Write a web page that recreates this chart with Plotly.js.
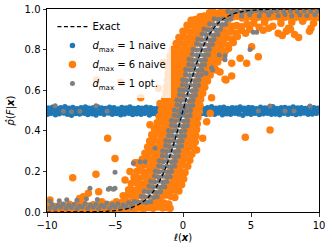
<!DOCTYPE html>
<html><head><meta charset="utf-8">
<script src="https://cdn.plot.ly/plotly-3.0.1.min.js"></script>
<style>html,body{margin:0;padding:0;background:#fff}#chart{width:332px;height:249px}</style>
</head><body><div id="chart"></div>
<script>
// ---- Exact curve ----
const exactX = [-10,-8,-7,-6,-5.5,-5,-4.5,-4,-3.5,-3,-2.5,-2,-1.5,-1,-0.5,0,0.5,1,1.5,2,2.5,3,3.5,4,4.5,5,5.5,6,7,8,10];
const exactY = [0.00005,0.00034,0.00091,0.0025,0.0041,0.0067,0.011,0.018,0.0293,0.0474,0.0759,0.1192,0.1824,0.2689,0.3775,0.5,0.6225,0.7311,0.8176,0.8808,0.9241,0.9526,0.9707,0.982,0.989,0.9933,0.9959,0.9975,0.9991,0.9997,0.99995];

// ---- d_max = 1 naive (blue band) ----
const blueX = [
-9.97,-9.7,-9.38,-9.1,-8.77,-8.5,-8.2,-7.88,-7.6,-7.27,-7.0,-6.69,-6.4,-6.08,-5.8,-5.47,-5.2,-4.9,-4.58,-4.3,-3.98,-3.7,-3.4,-3.08,-2.8,-2.47,-2.2,-1.9,-1.58,-1.3,-0.99,-0.7,-0.38,-0.1,0.22,0.5,0.8,1.12,1.4,1.71,2.0,2.32,2.6,2.9,3.21,3.5,3.82,4.1,4.4,4.72,5.0,5.3,5.61,5.9,6.22,6.5,6.8,7.11,7.4,7.71,8.0,8.3,8.62,8.9,9.2,9.51,9.8,
-9.85,-9.55,-9.22,-8.93,-8.62,-8.35,-8.03,-7.74,-7.42,-7.13,-6.84,-6.52,-6.23,-5.93,-5.62,-5.33,-5.03,-4.73,-4.43,-4.12,-3.83,-3.53,-3.22,-2.93,-2.63,-2.32,-2.03,-1.73,-1.43,-1.12,-0.83,-0.53,-0.22,0.07,0.37,0.66,0.97,1.27,1.56,1.86,2.17,2.46,2.76,3.06,3.36,3.66,3.96,4.26,4.56,4.86,5.16,5.46,5.76,6.06,6.36,6.66,6.96,7.26,7.56,7.86,8.16,8.46,8.76,9.06,9.36,9.66,9.95,
-9.92,-9.6,-9.3,-9.0,-8.68,-8.4,-8.1,-7.8,-7.5,-7.18,-6.9,-6.6,-6.3,-5.98,-5.7,-5.4,-5.08,-4.8,-4.5,-4.18,-3.9,-3.6,-3.28,-3.0,-2.7,-2.38,-2.1,-1.8,-1.48,-1.2,-0.9,-0.58,-0.3,0.0,0.3,0.62,0.9,1.2,1.52,1.8,2.1,2.42,2.7,3.0,3.3,3.62,3.9,4.2,4.5,4.82,5.1,5.4,5.7,6.02,6.3,6.6,6.9,7.22,7.5,7.8,8.1,8.42,8.7,9.0,9.3,9.62,9.9
];
const blueY = [
0.481,0.486,0.479,0.484,0.488,0.482,0.477,0.485,0.483,0.487,0.480,0.484,0.478,0.486,0.482,0.488,0.481,0.485,0.479,0.483,0.487,0.480,0.484,0.482,0.486,0.478,0.485,0.481,0.487,0.483,0.479,0.486,0.482,0.484,0.480,0.487,0.483,0.478,0.485,0.481,0.486,0.482,0.488,0.479,0.484,0.481,0.486,0.483,0.477,0.485,0.482,0.487,0.480,0.484,0.486,0.481,0.483,0.479,0.487,0.482,0.485,0.480,0.484,0.488,0.481,0.483,0.486,
0.496,0.500,0.494,0.499,0.502,0.497,0.495,0.501,0.498,0.503,0.496,0.499,0.494,0.501,0.497,0.502,0.498,0.495,0.500,0.497,0.503,0.496,0.499,0.501,0.495,0.498,0.502,0.497,0.500,0.494,0.499,0.501,0.496,0.498,0.503,0.497,0.500,0.495,0.499,0.502,0.496,0.498,0.501,0.497,0.494,0.500,0.498,0.502,0.496,0.499,0.501,0.495,0.498,0.503,0.497,0.500,0.496,0.499,0.502,0.495,0.498,0.501,0.497,0.500,0.494,0.499,0.502,
0.512,0.516,0.510,0.514,0.518,0.511,0.515,0.509,0.513,0.517,0.511,0.514,0.519,0.512,0.510,0.516,0.513,0.508,0.515,0.512,0.517,0.510,0.514,0.511,0.516,0.513,0.509,0.515,0.518,0.512,0.514,0.510,0.516,0.513,0.511,0.517,0.512,0.515,0.509,0.514,0.518,0.511,0.513,0.516,0.510,0.514,0.512,0.517,0.511,0.515,0.513,0.509,0.516,0.512,0.514,0.518,0.510,0.513,0.515,0.511,0.517,0.512,0.514,0.510,0.516,0.513,0.511
];

// ---- d_max = 6 naive (orange) ----
const orangeX = [
// central band, level by level (bottom to top)
-4.9,-4.55,-4.2,-3.85,-3.5,-2.45,-2.1,-1.75,-1.4,-1.05,
-4.4,-4.05,-3.7,-3.35,-3.0,-1.95,-1.6,-1.25,-0.9,-0.6,
-4.0,-3.65,-3.3,-2.95,-2.6,-1.6,-1.25,-0.9,-0.55,-0.3,
-3.8,-3.45,-3.1,-2.75,-2.4,-1.35,-1.0,-0.65,-0.35,-0.1,
-3.6,-3.25,-2.9,-2.55,-2.2,-1.1,-0.75,-0.45,-0.15,0.05,
-3.4,-3.05,-2.7,-2.35,-2.0,-0.9,-0.55,-0.2,0.15,
-3.2,-2.85,-2.5,-2.15,-1.8,-0.7,-0.35,0.0,0.35,
-3.0,-2.65,-2.3,-1.95,-1.6,-0.55,-0.2,0.15,0.5,
-2.8,-2.45,-2.1,-1.75,-1.4,-0.4,-0.05,0.3,0.65,
-2.6,-2.25,-1.9,-1.55,-1.25,-0.25,0.1,0.45,0.8,
-2.45,-2.1,-1.75,-1.4,-1.1,-0.12,0.22,0.55,0.9,
-2.3,-1.95,-1.6,-1.3,-0.98,0.0,0.32,0.65,0.95,
-2.1,-1.8,-1.5,-1.2,-0.88,0.12,0.42,0.72,1.0,
-1.9,-1.6,-1.3,-1.0,-0.72,0.25,0.55,0.82,1.05,
-1.75,-1.45,-1.15,-0.85,-0.6,0.36,0.62,0.88,1.1,
-1.6,-1.3,-1.0,-0.72,-0.48,0.48,0.72,0.98,1.2,
-1.45,-1.15,-0.88,-0.6,-0.35,0.6,0.85,1.05,1.25,
-1.35,-1.05,-0.78,-0.5,-0.25,0.72,0.95,1.15,1.3,
-1.25,-0.95,-0.68,-0.4,-0.12,0.85,1.05,1.25,1.45,
-1.2,-0.9,-0.6,-0.3,0.0,0.98,1.2,1.4,1.6,
-1.15,-0.85,-0.55,-0.25,0.12,1.1,1.35,1.58,1.8,
-1.1,-0.8,-0.5,-0.2,0.1,1.25,1.5,1.75,2.0,
-1.05,-0.75,-0.45,-0.15,0.15,0.42,1.4,1.7,2.0,2.3,
-1.0,-0.7,-0.4,-0.1,0.2,0.5,1.55,1.85,2.2,2.55,
-0.95,-0.65,-0.35,-0.05,0.25,0.55,1.7,2.0,2.3,2.6,2.9,
-0.8,-0.5,-0.2,0.1,0.4,0.7,1.9,2.2,2.5,2.8,3.1,3.35,
-0.5,-0.2,0.1,0.4,0.7,1.0,2.1,2.4,2.7,3.0,3.35,3.7,
-0.3,0.0,0.3,0.6,0.9,1.2,2.3,2.6,2.9,3.2,3.6,4.0,
0.0,0.3,0.6,0.9,1.2,1.5,2.6,2.9,3.2,3.5,3.9,4.3,
0.3,0.6,0.9,1.2,1.5,1.8,2.95,3.3,3.6,3.95,4.3,4.7,
0.6,0.9,1.2,1.5,1.8,2.1,
// top rows
1.25,1.55,1.9,2.25,2.6,2.95,3.3,3.65,4.0,4.35,4.7,5.05,5.4,5.75,6.1,6.45,6.8,7.15,7.5,7.85,8.2,8.55,8.9,9.25,9.6,9.95,
1.95,2.2,2.4,2.75,3.1,3.45,3.8,4.15,4.5,4.85,5.2,5.55,5.9,6.25,6.6,6.95,7.3,7.65,8.0,8.35,8.7,9.05,9.4,9.75,10.0,
// upper right scatter
5.6,5.9,6.3,6.6,7.0,7.3,7.6,7.9,8.2,8.5,9.3,5.2,6.0,7.2,8.0,8.8,4.9,4.6,9.6,5.54,5.05,4.68,4.2,3.58,3.58,3.09,2.72,7.75,9.41,3.16,2.43,
// other outliers
-6.35,-4.58,-1.45,-1.81,-3.11,-1.69,-8.11,-6.4,-5.54,-5.0,-9.78,-7.33,-6.96,-6.2,-7.6,-5.98,-3.9,-2.92,-3.4,-2.43,-3.53,-4.26,1.74,1.45,1.0,-2.06,2.1,2.0,4.58,6.4,-0.35,
// bottom rows
-9.9,-9.55,-9.2,-8.85,-8.5,-8.15,-7.8,-7.45,-7.1,-6.75,-6.4,-6.05,-5.7,-5.35,-5.0,-4.65,-4.3,-3.95,-3.6,-3.25,-2.9,-2.55,-2.2,-1.85,-1.5,-1.2,-0.95,
-9.75,-9.4,-9.05,-8.7,-8.35,-8.0,-7.65,-7.3,-6.95,-6.6,-6.25,-5.9,-5.55,-5.2,-4.85,-4.5,-4.15,-3.8,-3.45,-3.1,-2.75,-2.4,-2.05,-1.7,-1.35,-1.1
];
const orangeY = [
0.050,0.046,0.053,0.048,0.055,0.045,0.052,0.047,0.044,0.040,
0.080,0.085,0.077,0.083,0.079,0.082,0.076,0.084,0.078,0.072,
0.110,0.106,0.114,0.108,0.112,0.115,0.105,0.110,0.107,0.103,
0.140,0.145,0.137,0.142,0.138,0.143,0.136,0.141,0.139,0.134,
0.170,0.166,0.174,0.168,0.172,0.175,0.165,0.171,0.167,0.163,
0.200,0.205,0.196,0.202,0.198,0.203,0.197,0.201,0.194,
0.230,0.234,0.227,0.232,0.228,0.233,0.226,0.231,0.225,
0.260,0.264,0.257,0.262,0.258,0.263,0.256,0.261,0.255,
0.290,0.294,0.287,0.292,0.288,0.293,0.286,0.291,0.285,
0.320,0.324,0.317,0.322,0.318,0.323,0.316,0.321,0.315,
0.350,0.354,0.347,0.352,0.348,0.353,0.346,0.351,0.345,
0.380,0.384,0.377,0.382,0.378,0.383,0.376,0.381,0.375,
0.410,0.414,0.407,0.412,0.408,0.413,0.406,0.411,0.405,
0.440,0.444,0.437,0.442,0.438,0.443,0.436,0.441,0.435,
0.470,0.474,0.467,0.472,0.468,0.473,0.466,0.471,0.465,
0.500,0.504,0.497,0.502,0.498,0.503,0.496,0.501,0.495,
0.530,0.534,0.527,0.532,0.528,0.533,0.526,0.531,0.525,
0.560,0.564,0.557,0.562,0.558,0.563,0.556,0.561,0.555,
0.590,0.594,0.587,0.592,0.588,0.593,0.586,0.591,0.585,
0.620,0.624,0.617,0.622,0.618,0.623,0.616,0.621,0.615,
0.650,0.654,0.647,0.652,0.648,0.653,0.646,0.651,0.645,
0.680,0.684,0.677,0.682,0.678,0.683,0.676,0.681,0.675,
0.710,0.714,0.707,0.712,0.708,0.713,0.706,0.711,0.705,0.709,
0.740,0.744,0.737,0.742,0.738,0.743,0.736,0.741,0.735,0.739,
0.770,0.774,0.767,0.772,0.768,0.773,0.766,0.771,0.765,0.769,0.762,
0.800,0.804,0.797,0.802,0.798,0.803,0.796,0.801,0.795,0.799,0.792,0.805,
0.830,0.834,0.827,0.832,0.828,0.833,0.826,0.831,0.825,0.829,0.822,0.835,
0.860,0.864,0.857,0.862,0.858,0.863,0.856,0.861,0.855,0.859,0.852,0.865,
0.890,0.894,0.887,0.892,0.888,0.893,0.886,0.891,0.885,0.889,0.882,0.895,
0.920,0.924,0.917,0.922,0.918,0.923,0.916,0.921,0.915,0.919,0.912,0.925,
0.945,0.948,0.942,0.946,0.943,0.947,
0.962,0.966,0.958,0.963,0.957,0.961,0.955,0.960,0.964,0.956,0.959,0.962,0.957,0.961,0.955,0.960,0.963,0.956,0.959,0.962,0.957,0.961,0.955,0.960,0.963,0.958,
0.982,0.986,0.979,0.984,0.988,0.981,0.985,0.978,0.983,0.987,0.980,0.985,0.982,0.988,0.979,0.984,0.981,0.986,0.980,0.985,0.982,0.987,0.979,0.984,0.981,
0.910,0.895,0.905,0.915,0.880,0.870,0.890,0.900,0.875,0.860,0.890,0.930,0.935,0.930,0.935,0.940,0.900,0.880,0.930,0.765,0.814,0.733,0.757,0.733,0.670,0.654,0.690,0.905,0.905,0.650,0.700,
0.650,0.639,0.737,0.609,0.563,0.535,0.169,0.186,0.363,0.264,0.059,0.075,0.092,0.100,0.067,0.050,0.199,0.240,0.243,0.430,0.243,0.158,0.445,0.363,0.305,0.388,0.563,0.486,0.368,0.404,0.830,
0.012,0.008,0.015,0.010,0.006,0.013,0.009,0.016,0.011,0.007,0.014,0.010,0.017,0.012,0.008,0.015,0.011,0.018,0.013,0.020,0.015,0.022,0.018,0.025,0.020,0.022,0.018,
0.032,0.027,0.035,0.030,0.038,0.028,0.033,0.040,0.029,0.036,0.031,0.042,0.034,0.038,0.030,0.036,0.032,0.035,0.030,0.034,0.031,0.036,0.033,0.037,0.032,0.035
];

// ---- d_max = 1 opt. (gray) ----
const grayX = [
-3.59,-3.29,-2.99,-2.69,-2.39,
-3.06,-2.76,-2.46,-2.16,-1.89,
-2.85,-2.55,-2.25,-1.95,-1.65,
-2.50,-2.20,-1.90,-1.60,-1.33,
-2.38,-2.08,-1.78,-1.48,-1.18,
-2.10,-1.80,-1.50,-1.20,-0.93,
-2.04,-1.74,-1.44,-1.14,-0.84,
-1.79,-1.49,-1.19,-0.89,-0.62,
-1.75,-1.45,-1.15,-0.85,-0.55,
-1.52,-1.22,-0.92,-0.62,-0.35,
-1.50,-1.20,-0.90,-0.60,-0.30,
-1.28,-0.98,-0.68,-0.38,-0.11,
-1.27,-0.97,-0.67,-0.37,-0.07,
-1.06,-0.76,-0.46,-0.16,0.11,
-1.06,-0.76,-0.46,-0.16,0.14,
-0.85,-0.55,-0.25,0.05,0.32,
-0.85,-0.55,-0.25,0.05,0.35,
-0.65,-0.35,-0.05,0.25,0.52,
-0.65,-0.35,-0.05,0.25,0.55,
-0.45,-0.15,0.15,0.45,0.72,
-0.45,-0.15,0.15,0.45,0.75,
-0.25,0.05,0.35,0.65,0.92,
-0.24,0.06,0.36,0.66,0.96,
-0.04,0.26,0.56,0.86,1.13,
-0.03,0.27,0.57,0.87,1.17,
0.18,0.48,0.78,1.08,1.35,
0.20,0.50,0.80,1.10,1.40,
0.42,0.72,1.02,1.32,1.59,
0.45,0.75,1.05,1.35,1.65,
0.69,0.99,1.29,1.59,1.86,
0.74,1.04,1.34,1.64,1.94,
1.00,1.30,1.60,1.90,2.17,
1.08,1.38,1.68,1.98,2.28,
1.40,1.70,2.00,2.30,2.57,
1.55,1.85,2.15,2.45,2.75,
1.96,2.26,2.56,2.86,3.13,
2.29,2.59,2.89,3.19,3.49,
// bottom rows
-9.8,-9.4,-9.0,-8.6,-8.2,-7.8,-7.4,-7.0,-6.6,-6.2,-5.8,-5.4,-5.0,-4.6,-4.2,-3.8,
-9.6,-9.2,-8.8,-8.4,-8.0,-7.6,-7.2,-6.8,-6.4,-6.0,-5.6,-5.2,-4.8,-4.4,-4.0,-3.7,
// scattered
-9.78,-8.55,-7.8,-6.84,-5.37,-5.0,-5.0,-3.16,-2.79,-3.65,-5.49,-5.12,-2.06,-9.1,-7.1,-6.3,
-9.4,-8.8,-8.2,-7.58,-6.4,-5.58,5.54,6.4,7.5,8.16,9.34,
5.17,5.42,4.93,3.09,3.1,2.1,1.69,2.18,2.67,
// top rows
3.3,3.65,4.0,4.35,4.7,5.05,5.4,5.75,6.1,6.5,6.9,7.4,7.9,8.4,8.9,9.4,9.9,
3.6,4.3,4.9,5.6,6.3,7.0,7.5,8.0,8.6,9.1,9.7
];
const grayY = [
0.052,0.048,0.051,0.047,0.050,
0.077,0.073,0.076,0.072,0.075,
0.102,0.098,0.101,0.097,0.100,
0.127,0.123,0.126,0.122,0.125,
0.152,0.148,0.151,0.147,0.150,
0.177,0.173,0.176,0.172,0.175,
0.202,0.198,0.201,0.197,0.200,
0.227,0.223,0.226,0.222,0.225,
0.252,0.248,0.251,0.247,0.250,
0.277,0.273,0.276,0.272,0.275,
0.302,0.298,0.301,0.297,0.300,
0.327,0.323,0.326,0.322,0.325,
0.352,0.348,0.351,0.347,0.350,
0.377,0.373,0.376,0.372,0.375,
0.402,0.398,0.401,0.397,0.400,
0.427,0.423,0.426,0.422,0.425,
0.452,0.448,0.451,0.447,0.450,
0.477,0.473,0.476,0.472,0.475,
0.502,0.498,0.501,0.497,0.500,
0.527,0.523,0.526,0.522,0.525,
0.552,0.548,0.551,0.547,0.550,
0.577,0.573,0.576,0.572,0.575,
0.602,0.598,0.601,0.597,0.600,
0.627,0.623,0.626,0.622,0.625,
0.652,0.648,0.651,0.647,0.650,
0.677,0.673,0.676,0.672,0.675,
0.702,0.698,0.701,0.697,0.700,
0.727,0.723,0.726,0.722,0.725,
0.752,0.748,0.751,0.747,0.750,
0.777,0.773,0.776,0.772,0.775,
0.802,0.798,0.801,0.797,0.800,
0.827,0.823,0.826,0.822,0.825,
0.852,0.848,0.851,0.847,0.850,
0.877,0.873,0.876,0.872,0.875,
0.902,0.898,0.901,0.897,0.900,
0.927,0.923,0.926,0.922,0.925,
0.952,0.948,0.951,0.947,0.950,
0.020,0.016,0.024,0.018,0.022,0.015,0.025,0.019,0.023,0.017,0.026,0.020,0.024,0.018,0.027,0.022,
0.036,0.032,0.040,0.034,0.038,0.030,0.042,0.035,0.039,0.033,0.044,0.037,0.041,0.035,0.045,0.040,
0.054,0.060,0.058,0.117,0.117,0.117,0.196,0.248,0.248,0.240,0.112,0.112,0.314,0.055,0.065,0.062,
0.523,0.496,0.494,0.496,0.523,0.496,0.497,0.522,0.497,0.497,0.522,
0.885,0.885,0.800,0.750,0.770,0.710,0.683,0.700,0.773,
0.988,0.985,0.990,0.986,0.991,0.987,0.992,0.988,0.990,0.986,0.991,0.988,0.990,0.987,0.991,0.989,0.990,
0.970,0.966,0.972,0.965,0.970,0.967,0.973,0.966,0.970,0.968,0.972
];

const xTicks = [-10,-5,0,5,10];
const yTicks = [0,0.2,0.4,0.6,0.8,1.0];

const FONT = 'DejaVu Sans, sans-serif';
const traces = [
  {x: blueX, y: blueY, type: 'scatter', mode: 'markers', name: '<i>d</i><sub>max</sub> = 1 naive', legendrank: 2,
   marker: {color: '#1f77b4', size: 5.5, line: {width: 0}}},
  {x: orangeX, y: orangeY, type: 'scatter', mode: 'markers', name: '<i>d</i><sub>max</sub> = 6 naive', legendrank: 3,
   marker: {color: '#ff7f0e', size: 7.5, line: {width: 0}}},
  {x: grayX, y: grayY, type: 'scatter', mode: 'markers', name: '<i>d</i><sub>max</sub> = 1 opt.', legendrank: 4,
   marker: {color: '#7f7f7f', size: 5, line: {width: 0}}},
  {x: exactX, y: exactY, type: 'scatter', mode: 'lines', name: 'Exact', legendrank: 1,
   line: {color: '#000', width: 1.2, dash: '4px,2.5px', shape: 'spline', smoothing: 1}}
];

const layout = {
  width: 332, height: 249,
  margin: {l: 47, r: 13, t: 9, b: 37},
  paper_bgcolor: '#fff', plot_bgcolor: '#fff',
  font: {family: FONT, size: 10, color: '#000'},
  showlegend: true,
  legend: {x: 0.02, y: 0.985, xanchor: 'left', yanchor: 'top', bgcolor: 'rgba(255,255,255,0.8)',
           borderwidth: 0, font: {family: FONT, size: 10, color: '#000'}, itemwidth: 30},
  xaxis: {range: [-10, 10], tickvals: xTicks, ticktext: xTicks.map(v => v < 0 ? '\u2212' + Math.abs(v) : String(v)),
          ticks: 'outside', ticklen: 3.5, tickwidth: 0.8, tickcolor: '#000',
          showline: true, mirror: true, linecolor: '#000', linewidth: 1, showgrid: false, zeroline: false,
          tickfont: {family: FONT, size: 10, color: '#000'},
          title: {text: '<i>ℓ</i>(<b><i>x</i></b>)', font: {family: FONT, size: 10, color: '#000'}, standoff: 4}},
  yaxis: {range: [0, 1], tickvals: yTicks, ticktext: yTicks.map(v => v.toFixed(1)),
          ticks: 'outside', ticklen: 3.5, tickwidth: 0.8, tickcolor: '#000',
          showline: true, mirror: true, linecolor: '#000', linewidth: 1, showgrid: false, zeroline: false,
          tickfont: {family: FONT, size: 10, color: '#000'},
          title: {text: '<i>p\u0302</i>(<i>F</i>|<b><i>x</i></b>)', font: {family: FONT, size: 10, color: '#000'}, standoff: 8}}
};

Plotly.newPlot('chart', traces, layout, {displayModeBar: false, staticPlot: true});
</script>
</body></html>
